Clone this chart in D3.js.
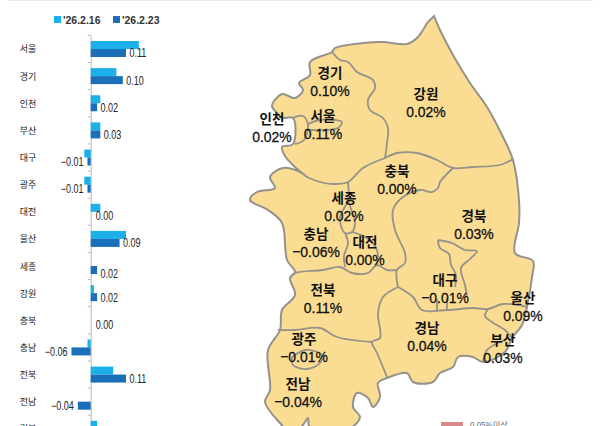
<!DOCTYPE html>
<html>
<head>
<meta charset="utf-8">
<script src="https://cdn.jsdelivr.net/npm/d3@7"></script>
<style>
html, body { margin: 0; padding: 0; background: #fff; }
svg { display: block; }
</style>
</head>
<body>
<svg id="chart" width="609" height="426"></svg>
<script>
var regions = ["서울", "경기", "인천", "부산", "대구", "광주", "대전", "울산", "세종", "강원", "충북", "충남", "전북", "전남", "경북", "경남"];
var seriesNames = ["'26.2.16", "'26.2.23"];
var valuesFeb16 = [0.15, 0.08, 0.03, 0.03, -0.02, -0.02, 0.03, 0.11, 0, 0.01, 0, -0.01, 0.07, 0, 0.02, 0.03];
var valuesFeb23 = [0.11, 0.10, 0.02, 0.03, -0.01, -0.01, 0.00, 0.09, 0.02, 0.02, 0.00, -0.06, 0.11, -0.04, 0.03, 0.04];

// 지도 라벨 위치 (지역 이름 중심)
var mapLabelX = [323, 330, 272, 503, 445, 304, 365, 523, 344, 426, 397, 316, 323, 298, 474, 427];
var mapLabelY = [115, 72, 118, 339, 279, 338, 241, 297, 197, 93, 170, 233, 289, 383, 215, 327];

// 지도 외곽선, 도계
var mapOutline = [[434,16],[440,30],[453,55],[470,83],[487,107],[503,137],[513,160],[519,200],[519,223],[515,253],[533,261],[532,277],[527,307],[522,325],[512,338],[505,352],[483,362],[473,357],[458,357],[453,367],[440,373],[433,382],[413,382],[407,373],[387,378],[378,383],[380,397],[373,407],[368,398],[357,393],[353,407],[360,417],[352,427],[335,432],[318,432],[309,426],[308,418],[302,426],[290,432],[280,423],[265,402],[270,390],[268,350],[280,330],[282,310],[295,295],[290,278],[295,272],[287,260],[282,223],[268,210],[250,200],[257,192],[275,188],[270,177],[283,168],[300,172],[307,177],[296,168],[285,156],[282,147],[293,144],[293,118],[282,118],[277,113],[272,106],[282,94],[295,98],[303,90],[299,83],[310,75],[310,62],[332,52],[335,48],[363,43],[383,42],[407,44],[417,38],[427,23]];
var mapBorders = [
  [[332,52],[340,60],[348,62],[357,72],[373,80],[375,88],[368,100],[370,110],[383,118],[388,128],[387,143],[385,158]],
  [[385,158],[397,153],[417,153],[437,160],[453,168],[473,167],[500,165],[513,159]],
  [[307,177],[320,182],[333,184],[348,182],[363,168],[385,158]],
  [[348,182],[348,200],[340,217],[341,226],[345,233],[352,232],[355,222],[352,212],[348,200]],
  [[453,168],[440,182],[438,188],[432,192],[420,190],[403,197],[393,210],[395,230],[405,253],[405,263],[397,270],[398,287]],
  [[398,287],[413,297],[422,310],[447,310],[473,308],[488,309],[503,304],[527,307]],
  [[398,287],[383,297],[378,313],[380,338],[372,342],[377,353],[387,377]],
  [[278,330],[295,330],[320,328],[337,337],[372,342]],
  [[290,278],[295,273],[323,270],[340,267],[352,273],[368,273],[377,265],[387,270],[397,270]],
  [[345,233],[348,243],[344,256],[345,267]],
  [[352,232],[367,238],[377,250],[377,265]],
  [[488,309],[485,316],[492,322],[505,330],[512,338]],
  [[483,362],[487,350],[505,340]],
  [[438,240],[440,248],[449,254],[451,265],[456,275],[455,287]],
  [[438,240],[452,243],[465,250],[477,251],[470,259],[461,268],[465,285],[467,296]],
  [[437,299],[437,310]],
  [[447,298],[447,310]],
  [[293,118],[303,116],[308,125],[304,140],[295,144]],
  [[308,124],[320,120],[335,120],[342,122],[338,128],[325,130],[308,130]],
  [[292,357],[293,365],[307,369],[320,363],[322,355],[306,350],[292,357]]
];

var barColors = ["#1cb0ea", "#1a6fb8"];
var svg = d3.select("#chart");
var krFont = "'Noto Sans CJK KR', 'Noto Sans', sans-serif";
var numFont = "'Liberation Sans', sans-serif";

svg.append("rect").attr("x", 8).attr("y", 0).attr("width", 585).attr("height", 1).attr("fill", "#ececec");

// 왼쪽 막대 차트 (경남 행은 사진 밖이라 경북까지만 그린다)
var barRegions = regions.slice(0, 15);
var x = d3.scaleLinear().domain([0, 0.11]).range([90.7, 126]);
var y = d3.scaleBand().domain(barRegions).range([35.4, 35.4 + 27.13 * barRegions.length]);
var inner = d3.scaleBand().domain([0, 1]).range([5.6, 21.6]);

var yAxis = d3.axisLeft(y).tickSize(0).tickFormat("");
var axisG = svg.append("g").attr("transform", "translate(" + x(0) + ",0)").call(yAxis);
axisG.select(".domain").attr("stroke", "#b9b9b9").attr("stroke-width", 1);
axisG.selectAll(".tick").remove();
axisG.selectAll(".band-tick").data(barRegions).enter().append("line")
  .attr("x1", -3).attr("x2", 0)
  .attr("y1", function(d) { return y(d); })
  .attr("y2", function(d) { return y(d); })
  .attr("stroke", "#b9b9b9");

var rows = svg.selectAll(".row").data(barRegions).enter().append("g")
  .attr("class", "row")
  .attr("transform", function(d) { return "translate(0," + y(d) + ")"; });

[valuesFeb16, valuesFeb23].forEach(function(vals, s) {
  rows.append("rect")
    .attr("x", function(d, i) { return Math.min(x(0), x(vals[i])); })
    .attr("y", inner(s))
    .attr("width", function(d, i) { return Math.abs(x(vals[i]) - x(0)); })
    .attr("height", inner.bandwidth())
    .attr("fill", barColors[s]);
});

rows.append("text")
  .attr("x", 28).attr("y", y.bandwidth() / 2)
  .attr("text-anchor", "middle").attr("dominant-baseline", "central")
  .attr("font-family", krFont).attr("font-size", 9).attr("fill", "#222")
  .text(function(d) { return d; });

function fmt(v) {
  return (v < 0 ? "\u2212" : "") + Math.abs(v).toFixed(2);
}

// 숫자는 좁은 글꼴처럼 보이게 가로로 줄인다
rows.filter(function(d) { return d !== "경북"; }).append("text")
  .attr("transform", function(d) {
    var v = valuesFeb23[regions.indexOf(d)];
    var px = v < 0 ? x(v) - 4 : (v === 0 ? x(0) + 5 : x(v) + 3.5);
    var py = y.bandwidth() / 2 + (d === "세종" ? 7 : 4);
    return "translate(" + px + "," + py + ") scale(0.75,1)";
  })
  .attr("text-anchor", function(d) { return valuesFeb23[regions.indexOf(d)] < 0 ? "end" : "start"; })
  .attr("dominant-baseline", "central")
  .attr("font-family", numFont).attr("font-size", 12).attr("fill", "#222")
  .text(function(d) { return fmt(valuesFeb23[regions.indexOf(d)]); });

// 범례
var legendX = d3.scaleOrdinal().domain(seriesNames).range([54, 113]);
var legend = svg.selectAll(".legend").data(seriesNames).enter().append("g")
  .attr("class", "legend")
  .attr("transform", function(d) { return "translate(" + legendX(d) + ",16)"; });
legend.append("rect").attr("width", 7).attr("height", 7)
  .attr("fill", function(d, i) { return barColors[i]; });
legend.append("text").attr("x", 9).attr("y", 3.5)
  .attr("dominant-baseline", "central")
  .attr("font-family", numFont).attr("font-weight", "bold")
  .attr("font-size", 10.5).attr("fill", "#333")
  .text(function(d) { return d; });

// 오른쪽 지도
var mapX = d3.scaleIdentity();
var mapY = d3.scaleIdentity();
var mapLine = d3.line()
  .x(function(d) { return mapX(d[0]); })
  .y(function(d) { return mapY(d[1]); })
  .curve(d3.curveCatmullRom.alpha(0.5));

var map = svg.append("g");
map.append("path")
  .attr("d", mapLine(mapOutline) + "Z")
  .attr("fill", "#fadc92").attr("stroke", "#94928a").attr("stroke-width", 2);
map.selectAll(".border").data(mapBorders).enter().append("path")
  .attr("class", "border")
  .attr("d", mapLine)
  .attr("fill", "none").attr("stroke", "#94928a").attr("stroke-width", 1.8);

var labels = map.selectAll(".mapLabel").data(regions).enter().append("g")
  .attr("class", "mapLabel")
  .attr("transform", function(d, i) { return "translate(" + mapX(mapLabelX[i]) + "," + mapY(mapLabelY[i]) + ")"; });
labels.append("text")
  .attr("text-anchor", "middle").attr("dominant-baseline", "central")
  .attr("font-family", krFont).attr("font-weight", 700).attr("font-size", 13.5).attr("fill", "#111")
  .text(function(d) { return d; });
labels.append("text")
  .attr("transform", "translate(0,18.5) scale(0.9,1)")
  .attr("text-anchor", "middle").attr("dominant-baseline", "central")
  .attr("font-family", numFont).attr("font-size", 15.5).attr("fill", "#111")
  .attr("stroke", "#111").attr("stroke-width", 0.3)
  .text(function(d, i) { return fmt(valuesFeb23[i]) + "%"; });

// 아래쪽 지도 범례 (잘림)
svg.append("rect").attr("x", 441).attr("y", 422).attr("width", 22).attr("height", 8).attr("fill", "#d98a8a");
svg.append("text").attr("x", 470).attr("y", 428)
  .attr("font-family", krFont).attr("font-size", 8).attr("fill", "#666")
  .text("0.05%이상");
</script>
</body>
</html>
